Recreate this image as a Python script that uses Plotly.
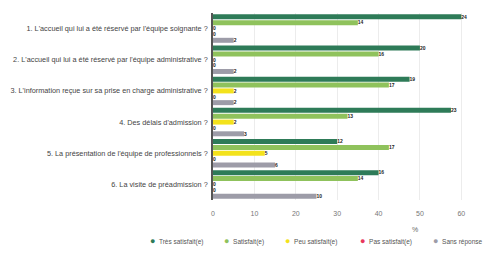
import plotly.graph_objects as go

categories = [
    "1. L'accueil qui lui a été réservé par l'équipe soignante ?",
    "2. L'accueil qui lui a été réservé par l'équipe administrative ?",
    "3. L'information reçue sur sa prise en charge administrative ?",
    "4. Des délais d'admission ?",
    "5. La présentation de l'équipe de professionnels ?",
    "6. La visite de préadmission ?",
]
series_names = ["Très satisfait(e)", "Satisfait(e)", "Peu satisfait(e)", "Pas satisfait(e)", "Sans réponse"]
# counts shown as labels
tres_satisfait = [24, 20, 19, 23, 12, 16]
satisfait = [14, 16, 17, 13, 17, 14]
peu_satisfait = [0, 0, 2, 2, 5, 0]
pas_satisfait = [0, 0, 0, 0, 0, 0]
sans_reponse = [2, 2, 2, 3, 6, 10]
total_respondents = 40
x_ticks = [0, 10, 20, 30, 40, 50, 60]

colors = ["#2e7b58", "#8fc25c", "#f3e21c", "#e8375c", "#9d9ca8"]
all_series = [tres_satisfait, satisfait, peu_satisfait, pas_satisfait, sans_reponse]

PLOT_L, PLOT_W = 213, 269
PLOT_T, PLOT_B = 13, 55
PLOT_H = 255 - PLOT_T - PLOT_B
legend_px = [148, 222, 283, 358, 431]  # left edge of each legend entry (pixels)
legend_y_px = 241

fig = go.Figure()
annotations = []
for name, vals, col, lx in zip(series_names, all_series, colors, legend_px):
    pct = [v / total_respondents * 100 for v in vals]
    fig.add_trace(go.Bar(
        y=categories, x=pct, orientation="h", name=name,
        marker=dict(color=col, line=dict(width=0)),
        text=["<b>%d</b>" % v for v in vals], textposition="outside",
        textfont=dict(family="Liberation Sans", size=7, color="#222"),
        cliponaxis=False, showlegend=False,
    ))
    annotations.append(dict(
        text="<span style='color:%s;font-size:9px'>●</span>  %s" % (col, name),
        x=(lx - PLOT_L) / PLOT_W, y=-(legend_y_px - (255 - PLOT_B)) / PLOT_H,
        xref="paper", yref="paper",
        xanchor="left", yanchor="middle", showarrow=False,
        font=dict(size=6.5, color="#555"),
    ))

annotations.append(dict(text="%", x=0.77, y=-(229 - (255 - PLOT_B)) / PLOT_H,
                        xref="paper", yref="paper", yanchor="middle",
                        showarrow=False, font=dict(size=7, color="#666")))

fig.update_layout(
    width=491, height=255,
    margin=dict(l=PLOT_L, r=491 - PLOT_L - PLOT_W, t=PLOT_T, b=PLOT_B),
    paper_bgcolor="white", plot_bgcolor="white",
    barmode="group", bargap=0.06, bargroupgap=0.15,
    showlegend=False,
    font=dict(family="Liberation Sans", size=7, color="#444"),
    xaxis=dict(range=[0, 65], tickvals=x_ticks, showgrid=True, gridcolor="#ececec",
               gridwidth=1, zeroline=False, ticks="", ticklabelstandoff=8,
               tickfont=dict(size=7, color="#777")),
    yaxis=dict(autorange="reversed", showline=True, linecolor="#555", linewidth=1.5,
               ticks="", ticksuffix=" ", tickfont=dict(size=7.3, color="#444")),
    annotations=annotations,
)

fig.write_html("out.html", config={"displayModeBar": False},
               post_script="document.body.style.margin='0';")
